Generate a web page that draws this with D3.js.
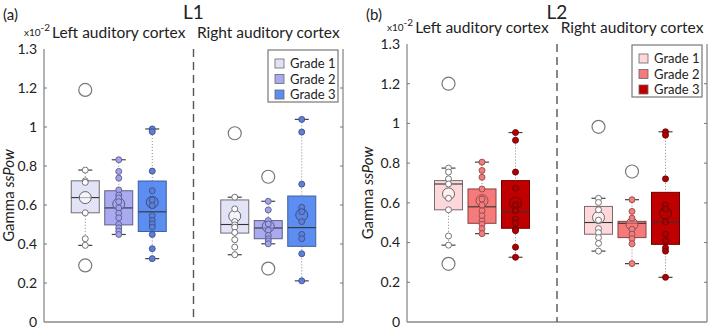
<!DOCTYPE html>
<html>
<head>
  <meta charset="UTF-8">
  <title>Gamma ssPow box plots</title>
  <script src="https://d3js.org/d3.v7.min.js"></script>
  <style>
    body { margin: 0; background: #fff; }
    svg { font-family: Lato, "Open Sans", sans-serif; }
  </style>
</head>
<body>
  <svg id="chart" width="709" height="329"></svg>
  <script>
    const regions = ["Left auditory cortex", "Right auditory cortex"];
    const grades = ["Grade 1", "Grade 2", "Grade 3"];
    const yTicks = [0, 0.2, 0.4, 0.6, 0.8, 1, 1.2, 1.4];
    const yTickLabels = ["0", "0.2", "0.4", "0.6", "0.8", "1", "1.2", "1.3"];

    // order: Left G1, G2, G3, Right G1, G2, G3
    const l1Low = [0.393, 0.449, 0.325, 0.345, 0.401, 0.211];
    const l1Q1 = [0.56, 0.498, 0.464, 0.456, 0.427, 0.388];
    const l1Median = [0.638, 0.585, 0.565, 0.5, 0.482, 0.484];
    const l1Q3 = [0.724, 0.673, 0.723, 0.626, 0.52, 0.646];
    const l1High = [0.779, 0.832, 0.99, 0.64, 0.619, 1.039];
    const l1Mean = [0.638, 0.605, 0.614, 0.543, 0.49, 0.549];
    const l1Points = [
      [0.779, 0.724, 0.716, 0.56, 0.427, 0.393],
      [0.832, 0.772, 0.738, 0.677, 0.651, 0.636, 0.617, 0.585, 0.558, 0.534, 0.5, 0.483, 0.466, 0.449],
      [0.99, 0.976, 0.774, 0.673, 0.626, 0.597, 0.546, 0.52, 0.503, 0.486, 0.449, 0.376, 0.325],
      [0.64, 0.58, 0.515, 0.498, 0.486, 0.459, 0.422, 0.384, 0.345],
      [0.619, 0.575, 0.52, 0.503, 0.47, 0.444, 0.427, 0.415, 0.401],
      [1.039, 0.974, 0.707, 0.588, 0.566, 0.515, 0.449, 0.427, 0.35, 0.211]
    ];
    const l1Outliers = [[1.19, 0.29], [], [], [0.968], [0.745, 0.274], []];

    const l2Low = [0.387, 0.445, 0.326, 0.357, 0.294, 0.225];
    const l2Q1 = [0.565, 0.497, 0.472, 0.442, 0.425, 0.391];
    const l2Median = [0.695, 0.58, 0.555, 0.501, 0.497, 0.504];
    const l2Q3 = [0.712, 0.67, 0.712, 0.582, 0.507, 0.653];
    const l2High = [0.775, 0.805, 0.954, 0.623, 0.616, 0.958];
    const l2Mean = [0.645, 0.611, 0.599, 0.526, 0.492, 0.548];
    const l2Points = [
      [0.775, 0.755, 0.721, 0.695, 0.623, 0.565, 0.433, 0.387],
      [0.805, 0.763, 0.729, 0.67, 0.619, 0.589, 0.56, 0.535, 0.509, 0.492, 0.47, 0.445],
      [0.954, 0.915, 0.755, 0.673, 0.59, 0.56, 0.518, 0.497, 0.467, 0.46, 0.377, 0.326],
      [0.623, 0.602, 0.565, 0.513, 0.47, 0.45, 0.425, 0.396, 0.357],
      [0.616, 0.557, 0.523, 0.467, 0.442, 0.42, 0.394, 0.294],
      [0.958, 0.941, 0.721, 0.589, 0.569, 0.504, 0.442, 0.408, 0.374, 0.357, 0.225]
    ];
    const l2Outliers = [[1.2, 0.293], [], [], [0.983], [0.758], []];

    const svg = d3.select("#chart");

    const panels = [
      {
        letter: "(a)", title: "L1", left: 44, right: 343, top: 49, bottom: 322, yLabelX: 9,
        low: l1Low, q1: l1Q1, med: l1Median, q3: l1Q3, high: l1High, mean: l1Mean,
        points: l1Points, outliers: l1Outliers,
        fill: ["#e3e3f7", "#aaaaf0", "#5b8ef0"],
        dot: ["#ffffff", "#a3a3e6", "#5f7fd6"],
        dotStroke: ["#666666", "#5a5a96", "#3a4f8c"],
        boxStroke: ["#6e6e6e", "#5f5f85", "#3f5f9f"]
      },
      {
        letter: "(b)", title: "L2", left: 407, right: 707, top: 44, bottom: 322, yLabelX: 368,
        low: l2Low, q1: l2Q1, med: l2Median, q3: l2Q3, high: l2High, mean: l2Mean,
        points: l2Points, outliers: l2Outliers,
        fill: ["#fdd8da", "#f57b7b", "#c00000"],
        dot: ["#ffffff", "#ee7f80", "#b00000"],
        dotStroke: ["#666666", "#9a4646", "#6a0000"],
        boxStroke: ["#7a6a6a", "#8a4040", "#700000"]
      }
    ];

    panels.forEach(p => {
      const g = svg.append("g");
      const y = d3.scaleLinear().domain([0, 1.4]).range([p.bottom, p.top]);
      const xRegion = d3.scaleBand().domain(regions).range([p.left, p.right]);
      const xGrade = d3.scalePoint().domain(grades).range([-33.5, 33.5]);
      const cx = i => xRegion(regions[Math.floor(i / 3)]) + xRegion.bandwidth() / 2 + xGrade(grades[i % 3]);
      const boxW = 28;

      // frame (no top line)
      g.append("line").attr("x1", p.left).attr("x2", p.left).attr("y1", p.top).attr("y2", p.bottom)
        .attr("stroke", "#8a8a8a").attr("stroke-width", 1.3);
      g.append("line").attr("x1", p.right).attr("x2", p.right).attr("y1", p.top).attr("y2", p.bottom)
        .attr("stroke", "#8a8a8a").attr("stroke-width", 1.3);
      g.append("line").attr("x1", p.left).attr("x2", p.right).attr("y1", p.bottom).attr("y2", p.bottom)
        .attr("stroke", "#8a8a8a").attr("stroke-width", 1.3);

      // ticks + labels
      const inner = yTicks.filter(t => t > 0 && t < 1.4);
      g.selectAll(".tl").data(inner).enter().append("line")
        .attr("x1", p.left).attr("x2", p.left + 3).attr("y1", d => y(d)).attr("y2", d => y(d))
        .attr("stroke", "#777");
      g.selectAll(".tr").data(inner).enter().append("line")
        .attr("x1", p.right).attr("x2", p.right - 3).attr("y1", d => y(d)).attr("y2", d => y(d))
        .attr("stroke", "#777");
      g.selectAll(".ylab").data(yTicks).enter().append("text")
        .attr("x", p.left - 7).attr("y", d => y(d)).attr("dy", "0.35em")
        .attr("text-anchor", "end").attr("font-size", 14).attr("fill", "#222")
        .text((d, i) => yTickLabels[i]);

      // dashed separator
      g.append("line")
        .attr("x1", xRegion(regions[1])).attr("x2", xRegion(regions[1]))
        .attr("y1", p.top).attr("y2", p.bottom)
        .attr("stroke", "#555").attr("stroke-width", 1.4).attr("stroke-dasharray", "8,5");

      // titles
      svg.append("text").attr("x", p.left - 41).attr("y", 20).attr("font-size", 15).attr("fill", "#222")
        .text(p.letter);
      svg.append("text").attr("x", (p.left + p.right) / 2).attr("y", 19).attr("text-anchor", "middle")
        .attr("font-size", 19).attr("fill", "#222").text(p.title);
      regions.forEach(r => {
        svg.append("text").attr("x", xRegion(r) + xRegion.bandwidth() / 2).attr("y", p.top - 11)
          .attr("text-anchor", "middle").attr("font-size", 15.5).attr("fill", "#222").text(r);
      });
      const sci = svg.append("text").attr("x", p.left - 20).attr("y", p.top - 13)
        .attr("font-size", 10).attr("fill", "#222");
      sci.append("tspan").text("x10");
      sci.append("tspan").attr("dy", -5).attr("font-size", 10).text("-2");

      const yl = svg.append("text")
        .attr("transform", `translate(${p.yLabelX + 5},${(p.top + p.bottom) / 2 + 10}) rotate(-90)`)
        .attr("text-anchor", "middle").attr("font-size", 15).attr("fill", "#222");
      yl.append("tspan").text("Gamma ");
      yl.append("tspan").attr("font-style", "italic").text("ssPow");

      // boxes
      d3.range(6).forEach(i => {
        const gi = i % 3;
        const x = cx(i);
        const bg = g.append("g");
        // whiskers
        bg.append("line").attr("x1", x).attr("x2", x).attr("y1", y(p.high[i])).attr("y2", y(p.q3[i]))
          .attr("stroke", "#888").attr("stroke-dasharray", "1,2");
        bg.append("line").attr("x1", x).attr("x2", x).attr("y1", y(p.q1[i])).attr("y2", y(p.low[i]))
          .attr("stroke", "#888").attr("stroke-dasharray", "1,2");
        bg.append("rect").attr("x", x - boxW / 2).attr("y", y(p.q3[i]))
          .attr("width", boxW).attr("height", y(p.q1[i]) - y(p.q3[i]))
          .attr("fill", p.fill[gi]).attr("stroke", p.boxStroke[gi]).attr("stroke-width", 1);
        bg.append("line").attr("x1", x - boxW / 2).attr("x2", x + boxW / 2)
          .attr("y1", y(p.med[i])).attr("y2", y(p.med[i]))
          .attr("stroke", "#333").attr("stroke-width", 1.1);
        [p.high[i], p.low[i]].forEach(v => {
          bg.append("line").attr("x1", x - 7).attr("x2", x + 7).attr("y1", y(v)).attr("y2", y(v))
            .attr("stroke", "#444").attr("stroke-width", 1.2);
        });
        // mean
        bg.append("circle").attr("cx", x).attr("cy", y(p.mean[i])).attr("r", 6)
          .attr("fill", p.dot[gi]).attr("fill-opacity", 0.6).attr("stroke", p.dotStroke[gi]).attr("stroke-width", 1);
        // points
        bg.selectAll(".pt").data(p.points[i]).enter().append("circle")
          .attr("cx", x).attr("cy", d => y(d)).attr("r", 3)
          .attr("fill", p.dot[gi]).attr("stroke", p.dotStroke[gi]).attr("stroke-width", 0.9);
        // outliers
        bg.selectAll(".out").data(p.outliers[i]).enter().append("circle")
          .attr("cx", x).attr("cy", d => y(d)).attr("r", 6.5)
          .attr("fill", "#fff").attr("stroke", "#777").attr("stroke-width", 1.2);
      });

      // legend
      const lx = p.right - 75, ly = p.top + 1;
      const lg = svg.append("g").attr("transform", `translate(${lx},${ly})`);
      lg.append("rect").attr("width", 70).attr("height", 52).attr("fill", "#fff")
        .attr("stroke", "#777").attr("stroke-width", 1.2);
      grades.forEach((gr, k) => {
        lg.append("rect").attr("x", 7).attr("y", 9 + k * 15.5).attr("width", 9).attr("height", 9)
          .attr("fill", p.fill[k]).attr("stroke", "#666").attr("stroke-width", 0.8);
        lg.append("text").attr("x", 22).attr("y", 13.5 + k * 15.5).attr("dy", "0.35em")
          .attr("font-size", 13).attr("fill", "#222").text(gr);
      });
    });
  </script>
</body>
</html>
